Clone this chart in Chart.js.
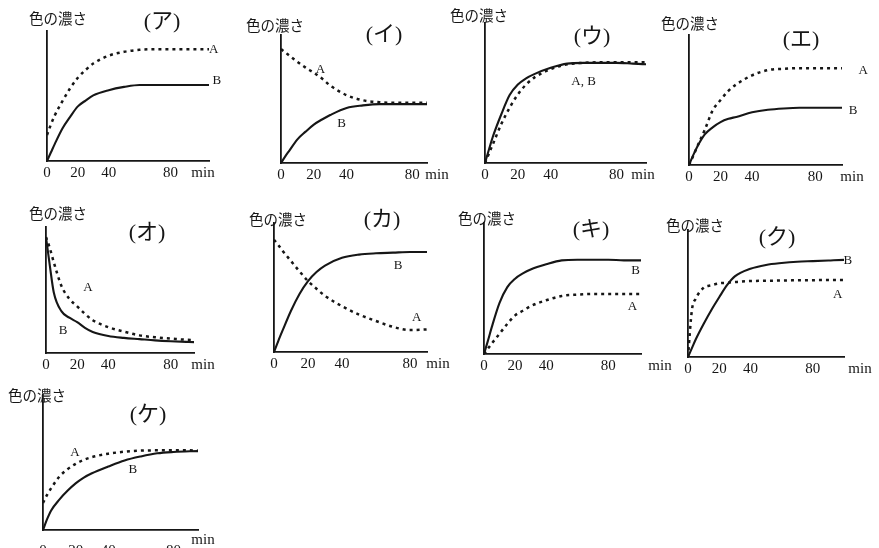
<!DOCTYPE html>
<html>
<head>
<meta charset="utf-8">
<script src="https://cdn.jsdelivr.net/npm/chart.js@4.4.1/dist/chart.umd.min.js"></script>
<style>
  html, body { margin: 0; padding: 0; background: #fff; width: 879px; height: 548px; overflow: hidden; }
  #wrap { position: relative; width: 879px; height: 548px; }
  canvas { position: absolute; }
</style>
</head>
<body>
<div id="wrap"></div>
<script>
// time grid shared by every panel (min)
const minutes = [0, 2.5, 5, 10, 15, 20, 25, 30, 40, 50, 60, 70, 80, 90, 100, 110];
const tickValues = [0, 20, 40, 80];

// colour intensity (0 = x axis, 100 = top of y axis), A = dotted, B = solid
const aA = [20, 28, 35, 46, 56, 64, 70, 75, 81, 84, 85.5, 86, 86, 86, 86, 86];
const aB = [0, 6.5, 13, 25, 34, 42, 46.5, 50.5, 54.5, 57, 58.5, 58.5, 58.5, 58.5, 58.5, 58.5];
const iA = [89, 86.5, 84, 79, 74.5, 70.5, 66, 60.5, 53, 49, 47.5, 47, 47, 47, 47, 47];
const iB = [0, 5, 9.5, 18.5, 24.5, 30, 34, 37.5, 43, 45, 46, 46, 46, 46, 46, 46];
const uA = [0, 7, 14, 28, 39.5, 49, 56, 61, 67, 70.5, 71.5, 72, 72, 72, 72, 72];
const uB = [0, 10, 19.5, 35, 48.5, 56, 60.5, 63.5, 68, 71, 71.5, 71.5, 71.5, 71, 70.5, 70.5];
const eA = [0, 6.5, 13.5, 27, 42, 50, 57, 62, 69, 73, 74, 74.5, 74.5, 74.5, 74.5, 74.5];
const eB = [0, 7, 13.5, 23.5, 29, 33, 35.5, 37, 40.5, 42.5, 43.5, 44, 44, 44, 44, 44];
const oA = [92, 83, 72, 53, 43, 37, 31, 26, 20.5, 17, 14, 12.5, 11.5, 10.5, 10, 10];
const oB = [92, 69, 48, 33, 28, 24.5, 20, 16.7, 13.5, 12, 11, 10, 9.3, 8.8, 8.5, 8.5];
const kaA = [87, 83, 78.5, 70.5, 62.5, 55, 49, 43.5, 35.5, 29, 24, 19.5, 17, 17.5, 18, 18];
const kaB = [0, 8.5, 16.5, 32, 45, 55, 62, 67, 73, 75.5, 76.5, 77, 77.5, 77.5, 77.5, 77.5];
const kiA = [0, 4, 8, 15.5, 23, 29.5, 33, 36.5, 41, 44.3, 45.3, 45.8, 45.8, 45.8, 45.8, 45.8];
const kiB = [0, 10, 20.5, 39, 51, 57.5, 61.5, 64.5, 68.5, 71.5, 72, 72, 72, 71.5, 71.5, 71.5];
const kuA = [0, 37, 46, 54.5, 56.5, 58, 58.5, 59, 59.8, 60, 60.2, 60.4, 60.5, 60.6, 60.6, 60.6];
const kuB = [0, 7, 14, 26, 37, 47, 56.5, 63.5, 69.5, 72.5, 74, 75, 75.5, 76, 76.5, 76.5];
const keA = [20, 26, 31, 39.5, 45, 49, 52, 54, 56.5, 58, 58.8, 59, 59, 59, 58.5, 58.5];
const keB = [0, 8, 14.5, 22.5, 29, 34.5, 38.8, 42, 47, 51.5, 54.5, 56.8, 57.8, 58.3, 58.5, 58.5];

// curve labels: [text, minute, intensity]
const aLabels = [['A', 108, 86], ['B', 110, 62]];
const iLabels = [['A', 24, 73], ['B', 37, 30.5]];
const uLabels = [['A, B', 60, 58]];
const eLabels = [['A', 110.5, 73], ['B', 104, 41.5]];
const oLabels = [['A', 27, 52], ['B', 11, 18]];
const kaLabels = [['B', 73, 67], ['A', 84, 27]];
const kiLabels = [['B', 97.5, 64], ['A', 95.5, 36]];
const kuLabels = [['B', 102.5, 75.6], ['A', 96, 49]];
const keLabels = [['A', 19.6, 57], ['B', 55, 44.4]];

// where each small graph sits on the page
const panels = [
  { title: '(ア)', ox: 47, oy: 161, top: 31, pxPerMin: 1.54, xMax: 105, A: aA, B: aB, labels: aLabels, yLab: [11, -13], titlePos: [115, -9], minX: 156, minDy: 0, tickPad: 3 },
  { title: '(イ)', ox: 281, oy: 163, top: 35, pxPerMin: 1.64, xMax: 89, A: iA, B: iB, labels: iLabels, yLab: [-6, -10], titlePos: [103, 0], minX: 156, minDy: 0, tickPad: 3 },
  { title: '(ウ)', ox: 485, oy: 163, top: 23, pxPerMin: 1.64, xMax: 98, A: uA, B: uB, labels: uLabels, yLab: [-6, -8], titlePos: [107, 14], minX: 158, minDy: 0, tickPad: 3 },
  { title: '(エ)', ox: 689, oy: 165, top: 35, pxPerMin: 1.575, xMax: 97, A: eA, B: eB, labels: eLabels, yLab: [1, -12], titlePos: [112, 5], minX: 163, minDy: 0, tickPad: 3 },
  { title: '(オ)', ox: 46, oy: 353, top: 227, pxPerMin: 1.56, xMax: 95, A: oA, B: oB, labels: oLabels, yLab: [12, -14], titlePos: [101, 6], minX: 157, minDy: 0, tickPad: 3 },
  { title: '(カ)', ox: 274, oy: 352, top: 223, pxPerMin: 1.7, xMax: 90, A: kaA, B: kaB, labels: kaLabels, yLab: [4, -4], titlePos: [108, -3], minX: 164, minDy: 0, tickPad: 3 },
  { title: '(キ)', ox: 484, oy: 354, top: 223, pxPerMin: 1.55, xMax: 101, A: kiA, B: kiB, labels: kiLabels, yLab: [3, -5], titlePos: [107, 7], minX: 176, minDy: 0, tickPad: 3 },
  { title: '(ク)', ox: 688, oy: 357, top: 230, pxPerMin: 1.56, xMax: 100, A: kuA, B: kuB, labels: kuLabels, yLab: [7, -5], titlePos: [89, 8], minX: 172, minDy: 0, tickPad: 3 },
  { title: '(ケ)', ox: 43, oy: 530, top: 395, pxPerMin: 1.63, xMax: 95, A: keA, B: keB, labels: keLabels, yLab: [-6, 0], titlePos: [105, 20], minX: 160, minDy: -2, tickPad: 12 },
];

const INK = '#161616';
const PAD = { left: 50, top: 30, right: 45, bottom: 14 };
const X_AXIS_H = 20;

const panelText = (p) => ({
  id: 'panelText',
  afterDraw(chart) {
    const { ctx, chartArea, scales } = chart;
    ctx.save();
    ctx.fillStyle = INK;
    ctx.textAlign = 'center';
    ctx.textBaseline = 'middle';

    ctx.font = '14.5px "Noto Sans CJK JP"';
    ctx.fillText('色の濃さ', chartArea.left + p.yLab[0], chartArea.top + p.yLab[1]);

    ctx.font = '22px "Liberation Serif", "Noto Sans CJK JP"';
    ctx.fillText(p.title, chartArea.left + p.titlePos[0], chartArea.top + p.titlePos[1]);

    ctx.font = '15px "Liberation Serif"';
    ctx.fillText('min', chartArea.left + p.minX, chartArea.bottom + 12 + p.minDy);

    ctx.font = '13px "Liberation Serif"';
    p.labels.forEach(([text, vx, vy]) => {
      ctx.fillText(text, scales.x.getPixelForValue(vx), scales.y.getPixelForValue(vy));
    });
    ctx.restore();
  },
});

const wrap = document.getElementById('wrap');

panels.forEach((p) => {
  const plotW = p.xMax * p.pxPerMin;
  const plotH = p.oy - p.top;
  const canvas = document.createElement('canvas');
  canvas.width = Math.round(PAD.left + plotW + PAD.right);
  canvas.height = Math.round(PAD.top + plotH + X_AXIS_H + PAD.bottom);
  canvas.style.left = (p.ox - PAD.left) + 'px';
  canvas.style.top = (p.top - PAD.top) + 'px';
  wrap.appendChild(canvas);

  new Chart(canvas, {
    type: 'line',
    data: {
      labels: minutes,
      datasets: [
        {
          label: 'A',
          data: minutes.map((m, k) => ({ x: m, y: p.A[k] })),
          borderColor: INK,
          borderWidth: 2.5,
          borderDash: [3, 4],
          cubicInterpolationMode: 'monotone',
          pointRadius: 0,
          fill: false,
        },
        {
          label: 'B',
          data: minutes.map((m, k) => ({ x: m, y: p.B[k] })),
          borderColor: INK,
          borderWidth: 2.1,
          cubicInterpolationMode: 'monotone',
          pointRadius: 0,
          fill: false,
        },
      ],
    },
    options: {
      responsive: false,
      animation: false,
      events: [],
      layout: { padding: PAD },
      plugins: {
        legend: { display: false },
        tooltip: { enabled: false },
      },
      scales: {
        x: {
          type: 'linear',
          min: 0,
          max: p.xMax,
          afterBuildTicks: (scale) => {
            scale.ticks = tickValues.map((v) => ({ value: v }));
          },
          afterFit: (scale) => {
            scale.height = X_AXIS_H;
          },
          grid: { display: false, drawTicks: false },
          border: { display: true, color: INK, width: 1.8 },
          ticks: {
            autoSkip: false,
            maxRotation: 0,
            padding: p.tickPad,
            color: INK,
            font: { family: 'Liberation Serif', size: 15 },
          },
        },
        y: {
          type: 'linear',
          min: 0,
          max: 100,
          afterFit: (scale) => {
            scale.width = 0;
          },
          grid: { display: false, drawTicks: false },
          border: { display: true, color: INK, width: 1.8 },
          ticks: { display: false },
        },
      },
    },
    plugins: [panelText(p)],
  });
});
</script>
</body>
</html>
